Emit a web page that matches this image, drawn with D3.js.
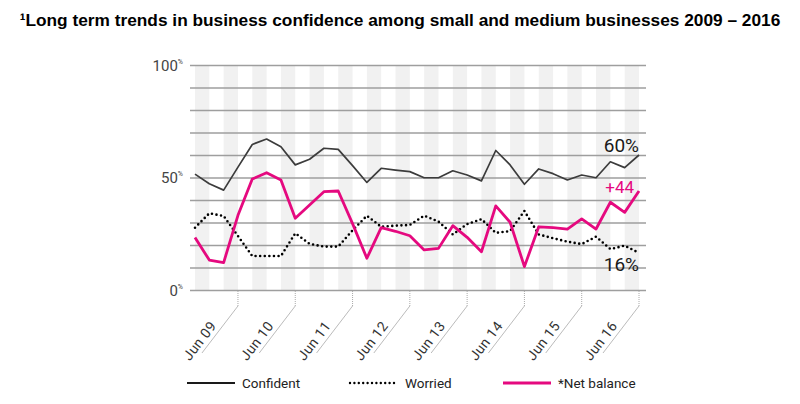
<!DOCTYPE html>
<html>
<head>
<meta charset="utf-8">
<script src="https://cdn.jsdelivr.net/npm/d3@7"></script>
<style>
  body { margin: 0; background: #fff; }
  svg text { font-family: Roboto, "Liberation Sans", sans-serif; }
</style>
</head>
<body>
<div id="chart"></div>
<script>
// quarterly readings, Sep 08 .. Jun 16
var quarters = ["Sep 08","Dec 08","Mar 09","Jun 09","Sep 09","Dec 09","Mar 10","Jun 10",
    "Sep 10","Dec 10","Mar 11","Jun 11","Sep 11","Dec 11","Mar 12","Jun 12",
    "Sep 12","Dec 12","Mar 13","Jun 13","Sep 13","Dec 13","Mar 14","Jun 14",
    "Sep 14","Dec 14","Mar 15","Jun 15","Sep 15","Dec 15","Mar 16","Jun 16"];

var confident = [51.5, 47.2, 44.4, 54.6, 64.7, 67.1, 63.7, 55.6, 58.1, 63.0, 62.5, 55.3,
    47.8, 54.1, 53.3, 52.6, 49.9, 49.9, 53.0, 51.1, 48.5, 62.0, 55.6, 47.0,
    53.8, 51.7, 48.9, 51.1, 49.9, 57.0, 54.4, 60];

var worried = [27.7, 34.1, 32.9, 24.0, 15.1, 15.1, 15.1, 25.2, 20.5, 19.3, 19.3, 26.5,
    33.0, 28.1, 28.6, 28.9, 33.0, 30.4, 24.7, 29.3, 31.5, 25.4, 26.2, 35.1,
    24.7, 23.0, 21.5, 20.4, 23.7, 18.2, 19.7, 16.5];

var netBalance = [23.3, 13.3, 12.2, 33.2, 49.3, 52.1, 48.9, 31.9, 37.8, 43.7, 44.0, 29.5,
    14.1, 27.7, 26.1, 24.1, 17.8, 18.5, 28.6, 23.4, 17.0, 37.4, 30.1, 10.4,
    28.1, 27.7, 27.1, 31.6, 27.1, 39.0, 34.5, 44];

var tickLabels = ["Jun 09","Jun 10","Jun 11","Jun 12","Jun 13","Jun 14","Jun 15","Jun 16"];
var yLabels = [0, 50, 100];

var endLabels = [
    {text: "60%", value: 60, color: "#1a1a1a"},
    {text: "+44", value: 44, color: "#e5097f"},
    {text: "16%", value: 16, color: "#1a1a1a"}
];

var width = 800, height = 404;

var svg = d3.select("#chart").append("svg")
    .attr("width", width)
    .attr("height", height);

// title
svg.append("text")
    .attr("x", 400)
    .attr("y", 26)
    .attr("text-anchor", "middle")
    .style("font-family", "'Liberation Sans', Arial, sans-serif")
    .style("font-weight", "bold")
    .style("font-size", "17.3px")
    .attr("fill", "#000")
    .text("\u00b9Long term trends in business confidence among small and medium businesses 2009 \u2013 2016");

var x = d3.scalePoint().domain(quarters).range([195, 639]);
var y = d3.scaleLinear().domain([0, 100]).range([290, 65]);

var step = x.step();

// shaded quarter bands
svg.append("g").selectAll("rect")
    .data(quarters.filter(function(d, i) { return i % 2 === 0; }))
    .enter().append("rect")
    .attr("x", function(d) { return x(d); })
    .attr("y", y(100))
    .attr("width", step)
    .attr("height", y(0) - y(100))
    .attr("fill", "#f1f1f1");

// horizontal gridlines
var yAxis = d3.axisLeft(y)
    .tickValues(d3.range(0, 101, 10))
    .tickSize(646 - 190)
    .tickFormat("");

var gy = svg.append("g")
    .attr("transform", "translate(646,0)")
    .call(yAxis);
gy.select(".domain").remove();
gy.selectAll(".tick line")
    .attr("stroke", "#9e9e9e")
    .attr("stroke-width", 1.6);

// y labels
var yl = svg.append("g").selectAll("text")
    .data(yLabels)
    .enter().append("text")
    .attr("x", 183)
    .attr("y", function(d) { return y(d) + 5.5; })
    .attr("text-anchor", "end")
    .attr("fill", "#444")
    .style("font-size", "15px");
yl.append("tspan").text(function(d) { return d; });
yl.append("tspan")
    .attr("dy", -7)
    .style("font-size", "7px")
    .text("%");

// x ticks: dotted stub, diagonal leader, rotated label
var jun = quarters.filter(function(d) { return d.indexOf("Jun") === 0; });
var gx = svg.append("g").selectAll("g")
    .data(jun)
    .enter().append("g")
    .attr("transform", function(d) { return "translate(" + x(d) + ",0)"; });

gx.append("line")
    .attr("x1", 0).attr("x2", 0)
    .attr("y1", y(0) + 1).attr("y2", 306)
    .attr("stroke", "#aaa")
    .attr("stroke-width", 1)
    .attr("stroke-dasharray", "1,1");

gx.append("line")
    .attr("x1", 0).attr("y1", 306)
    .attr("x2", -36).attr("y2", 353)
    .attr("stroke", "#bbb")
    .attr("stroke-width", 1);

gx.append("text")
    .attr("transform", "translate(-21,326) rotate(-52.5)")
    .attr("text-anchor", "end")
    .attr("fill", "#333")
    .style("font-size", "14px")
    .style("letter-spacing", "0.4px")
    .text(function(d, i) { return tickLabels[i]; });

// lines
function lineOf(values) {
    return d3.line()
        .x(function(d, i) { return x(quarters[i]); })
        .y(function(d) { return y(d); })(values);
}

svg.append("path")
    .attr("d", lineOf(worried))
    .attr("fill", "none")
    .attr("stroke", "#000")
    .attr("stroke-width", 2.6)
    .attr("stroke-linecap", "round")
    .attr("stroke-dasharray", "0,4.6");

svg.append("path")
    .attr("d", lineOf(confident))
    .attr("fill", "none")
    .attr("stroke", "#3c3c3c")
    .attr("stroke-width", 1.7)
    .attr("stroke-linejoin", "round");

svg.append("path")
    .attr("d", lineOf(netBalance))
    .attr("fill", "none")
    .attr("stroke", "#e5097f")
    .attr("stroke-width", 2.8)
    .attr("stroke-linejoin", "round");

// end value labels
var endY = {"60%": 152, "+44": 193, "16%": 271};
svg.append("g").selectAll("text")
    .data(endLabels)
    .enter().append("text")
    .attr("x", function(d) { return d.text === "+44" ? 634 : 639; })
    .attr("y", function(d) { return endY[d.text]; })
    .attr("text-anchor", "end")
    .attr("fill", function(d) { return d.color; })
    .style("font-size", function(d) { return d.text === "+44" ? "17px" : "19px"; })
    .text(function(d) { return d.text; });

// legend
var legend = [
    {name: "Confident", x: 187, color: "#1a1a1a", width: 2, dash: null},
    {name: "Worried", x: 350, color: "#000", width: 2.4, dash: "0,4.4"},
    {name: "*Net balance", x: 503, color: "#e5097f", width: 2.8, dash: null}
];
var lg = svg.append("g").selectAll("g")
    .data(legend)
    .enter().append("g")
    .attr("transform", function(d) { return "translate(" + d.x + ",383)"; });

lg.append("line")
    .attr("x1", 0).attr("x2", 48)
    .attr("y1", 0).attr("y2", 0)
    .attr("stroke", function(d) { return d.color; })
    .attr("stroke-width", function(d) { return d.width; })
    .attr("stroke-linecap", function(d) { return d.dash ? "round" : "butt"; })
    .attr("stroke-dasharray", function(d) { return d.dash; });

lg.append("text")
    .attr("x", 55)
    .attr("y", 5)
    .attr("fill", "#222")
    .style("font-size", "13.5px")
    .text(function(d) { return d.name; });
</script>
</body>
</html>
